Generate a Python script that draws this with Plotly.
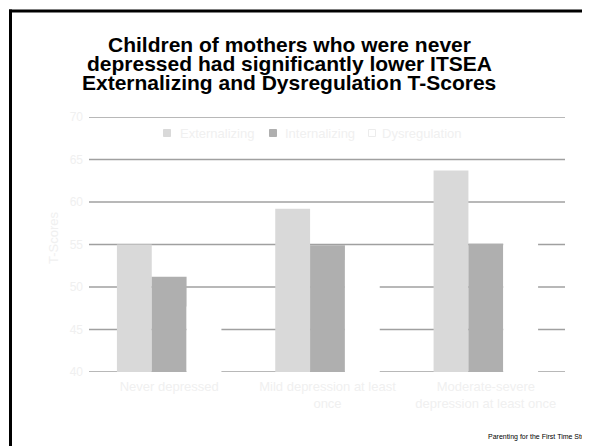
import plotly.graph_objects as go

# ---- data ----
categories = ["Never depressed", "Mild depression at least<br>once", "Moderate-severe<br>depression at least once"]
series_names = ["Externalizing", "Internalizing", "Dysregulation"]
externalizing = [55.0, 59.2, 63.7]
internalizing = [51.2, 54.9, 55.1]
dysregulation = [47.7, 53.2, 57.5]
y_ticks = [40, 45, 50, 55, 60, 65, 70]
y_title = "T-Scores"
title_lines = [
    "Children of mothers who were never",
    "depressed had significantly lower ITSEA",
    "Externalizing and Dysregulation T-Scores",
]
footnote = "Parenting for the First Time Study"

# ---- layout geometry (page pixels; the page body adds an 8px offset) ----
OFF = 8
PAGE_W, PAGE_H = 590, 446
W, H = PAGE_W - OFF, PAGE_H - OFF
PLOT_L, PLOT_R, PLOT_T, PLOT_B = 90, 565, 117, 372
L, R, T, B = PLOT_L - OFF, PAGE_W - PLOT_R, PLOT_T - OFF, PAGE_H - PLOT_B
PW, PH = PLOT_R - PLOT_L, PLOT_B - PLOT_T

def fx(px):
    return (px - PLOT_L) / PW

def fy(py):
    return 1 - (py - PLOT_T) / PH

FONT = "Liberation Sans, Arial, sans-serif"
faint = "#f0f0f0"
grid_col = "#a0a0a0"
colors = ["#d9d9d9", "#afafaf", "#ffffff"]
values = [externalizing, internalizing, dysregulation]

fig = go.Figure()
for name, vals, col in zip(series_names, values, colors):
    fig.add_trace(go.Bar(
        name=name, x=categories, y=vals,
        marker=dict(color=col, line=dict(width=0)),
        hoverinfo="skip", showlegend=False,
    ))

fig.update_layout(
    width=W, height=H,
    margin=dict(l=L, r=R, t=T, b=B, pad=0),
    paper_bgcolor="white", plot_bgcolor="white",
    barmode="group", bargap=0.34, bargroupgap=0,
    font=dict(family=FONT, size=13, color=faint),
    showlegend=False,
    xaxis=dict(
        showgrid=False, showline=False, zeroline=False, ticks="",
        tickfont=dict(size=13, color=faint), ticklabelstandoff=5, fixedrange=True,
    ),
    yaxis=dict(
        range=[y_ticks[0], y_ticks[-1]], tickvals=y_ticks,
        showgrid=False, showline=False, zeroline=False, ticks="",
        tickfont=dict(size=12, color=faint), ticklabelstandoff=6,
        fixedrange=True,
    ),
)

# horizontal gridlines (including both range edges), under the bars
for v in y_ticks:
    fig.add_shape(type="line", xref="paper", yref="y", x0=fx(89), x1=1, y0=v, y1=v,
                  line=dict(color=grid_col, width=1.3), layer="below")

# y-axis title
fig.add_annotation(text=y_title, x=fx(53), y=fy(238), xref="paper", yref="paper",
                   textangle=-90, showarrow=False, xanchor="center", yanchor="middle",
                   font=dict(family=FONT, size=13, color=faint))

# legend row
legend_sq_x = [167, 273, 372]
legend_txt_x = [178, 283, 380]
legend_y = 133
sq = 3.5
for name, col, sx, tx in zip(series_names, colors, legend_sq_x, legend_txt_x):
    fig.add_shape(type="rect", xref="paper", yref="paper",
                  x0=fx(sx - sq), x1=fx(sx + sq), y0=fy(legend_y + sq), y1=fy(legend_y - sq),
                  fillcolor=col, line=dict(color="#ececec" if col == "#ffffff" else col, width=1))
    fig.add_annotation(text=name, x=fx(tx), y=fy(legend_y), xref="paper", yref="paper",
                       xanchor="left", yanchor="middle", showarrow=False,
                       font=dict(family=FONT, size=13, color=faint))

# title lines as separate annotations for tight line spacing
title_y = [44, 63, 82]
for txt, py in zip(title_lines, title_y):
    fig.add_annotation(
        text="<b>" + txt + "</b>", x=fx(289), y=fy(py), xref="paper", yref="paper",
        xanchor="center", yanchor="middle", showarrow=False,
        font=dict(family=FONT, size=21, color="black"),
    )

fig.add_annotation(
    text=footnote, x=fx(486), y=fy(437), xref="paper", yref="paper",
    xanchor="left", yanchor="middle", showarrow=False,
    font=dict(family=FONT, size=7, color="black"),
)

# slide frame (top and left edges)
fig.add_shape(type="line", xref="paper", yref="paper",
              x0=fx(9), x1=fx(640), y0=fy(11), y1=fy(11),
              line=dict(color="black", width=3))
fig.add_shape(type="line", xref="paper", yref="paper",
              x0=fx(10.5), x1=fx(10.5), y0=fy(9.5), y1=fy(470),
              line=dict(color="black", width=3))

fig.write_html("out.html")
